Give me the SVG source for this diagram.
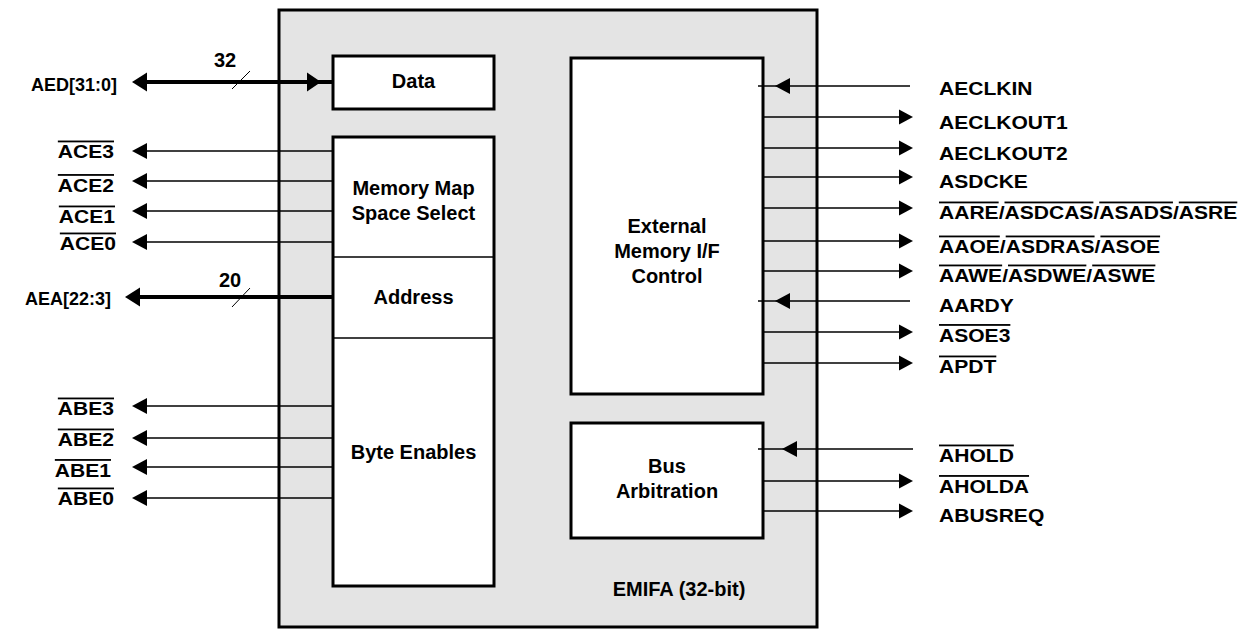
<svg xmlns="http://www.w3.org/2000/svg" xmlns:xlink="http://www.w3.org/1999/xlink" width="1252" height="631" viewBox="0 0 1252 631">
  <style>
    .frame { fill: #e4e4e4; stroke: #000; stroke-width: 3; }
    .blk { fill: #fff; stroke: #000; stroke-width: 3; }
    .div { stroke: #000; stroke-width: 1.3; fill: none; }
    .sig { stroke: #000; stroke-width: 1.3; fill: none; }
    .bus { stroke: #000; stroke-width: 4; fill: none; }
    .tick { stroke: #000; stroke-width: 1; fill: none; }
    .head { fill: #000; stroke: none; }
    .in { font-family: "Liberation Sans", Arial, sans-serif; font-weight: bold; font-size: 20px; fill: #000; text-anchor: middle; }
    .lbl { font-family: "Liberation Sans", Arial, sans-serif; font-weight: bold; font-size: 18px; fill: #000; }
    .lft { text-anchor: end; }
    .ov { text-decoration: overline; }
  </style>
  <defs>
    <path id="hl" class="head" d="M0,0 L15,-8 L15,8 Z"/>
    <path id="hr" class="head" d="M0,0 L-14,-7.5 L-14,7.5 Z"/>
    <path id="bl" class="head" d="M0,0 L15,-9.5 L15,9.5 Z"/>
    <path id="br" class="head" d="M0,0 L-14,-9.5 L-14,9.5 Z"/>
  </defs>

  <!-- EMIFA outline -->
  <g id="emifa">
    <rect class="frame" x="279" y="10" width="538" height="617"/>
    <text class="in" x="679" y="596">EMIFA (32-bit)</text>
  </g>

  <!-- data block -->
  <g id="data">
    <rect class="blk" x="333" y="56" width="161" height="53"/>
    <text class="in" x="413.5" y="88">Data</text>
  </g>

  <!-- address / chip select / byte enable block -->
  <g id="addr-block">
    <rect class="blk" x="333" y="137" width="161" height="449"/>
    <line class="div" x1="333" y1="257" x2="494" y2="257"/>
    <line class="div" x1="333" y1="338" x2="494" y2="338"/>
    <text class="in" x="413.5" y="195">Memory Map</text>
    <text class="in" x="413.5" y="220">Space Select</text>
    <text class="in" x="413.5" y="304">Address</text>
    <text class="in" x="413.5" y="459">Byte Enables</text>
  </g>

  <!-- external memory interface control -->
  <g id="ext-ctrl">
    <rect class="blk" x="571" y="58" width="192" height="336"/>
    <text class="in" x="667" y="233">External</text>
    <text class="in" x="667" y="258">Memory I/F</text>
    <text class="in" x="667" y="283">Control</text>
  </g>

  <!-- bus arbitration -->
  <g id="bus-arb">
    <rect class="blk" x="571" y="423" width="192" height="115"/>
    <text class="in" x="667" y="473">Bus</text>
    <text class="in" x="667" y="498">Arbitration</text>
  </g>

  <!-- signal lines -->
  <g id="connectors">
    <!-- data bus -->
    <line class="bus" x1="140" y1="82" x2="333" y2="82"/>
    <use href="#bl" x="132" y="82"/>
    <use href="#br" x="321" y="82"/>
    <line class="tick" x1="232" y1="89" x2="250" y2="71"/>
    <!-- address bus -->
    <line class="bus" x1="133" y1="297" x2="333" y2="297"/>
    <use href="#bl" x="125" y="297"/>
    <line class="tick" x1="232" y1="307" x2="250" y2="288"/>
    <!-- chip enables -->
    <line class="sig" x1="140" y1="151" x2="333" y2="151"/><use href="#hl" x="132" y="151"/>
    <line class="sig" x1="140" y1="181" x2="333" y2="181"/><use href="#hl" x="132" y="181"/>
    <line class="sig" x1="140" y1="211" x2="333" y2="211"/><use href="#hl" x="132" y="211"/>
    <line class="sig" x1="140" y1="242" x2="333" y2="242"/><use href="#hl" x="132" y="242"/>
    <!-- byte enables -->
    <line class="sig" x1="140" y1="406" x2="333" y2="406"/><use href="#hl" x="132" y="406"/>
    <line class="sig" x1="140" y1="438" x2="333" y2="438"/><use href="#hl" x="132" y="438"/>
    <line class="sig" x1="140" y1="467" x2="333" y2="467"/><use href="#hl" x="132" y="467"/>
    <line class="sig" x1="140" y1="498" x2="333" y2="498"/><use href="#hl" x="132" y="498"/>
    <!-- memory control, inputs -->
    <line class="sig" x1="758" y1="86" x2="910" y2="86"/><use href="#hl" x="775" y="86"/>
    <line class="sig" x1="758" y1="301" x2="910" y2="301"/><use href="#hl" x="775" y="301"/>
    <!-- memory control, outputs -->
    <line class="sig" x1="763" y1="117" x2="905" y2="117"/><use href="#hr" x="913" y="117"/>
    <line class="sig" x1="763" y1="148" x2="905" y2="148"/><use href="#hr" x="913" y="148"/>
    <line class="sig" x1="763" y1="177" x2="905" y2="177"/><use href="#hr" x="913" y="177"/>
    <line class="sig" x1="763" y1="208" x2="905" y2="208"/><use href="#hr" x="913" y="208"/>
    <line class="sig" x1="763" y1="241" x2="905" y2="241"/><use href="#hr" x="913" y="241"/>
    <line class="sig" x1="763" y1="271" x2="905" y2="271"/><use href="#hr" x="913" y="271"/>
    <line class="sig" x1="763" y1="332" x2="905" y2="332"/><use href="#hr" x="913" y="332"/>
    <line class="sig" x1="763" y1="363" x2="905" y2="363"/><use href="#hr" x="913" y="363"/>
    <!-- arbitration -->
    <line class="sig" x1="758" y1="449" x2="913" y2="449"/><use href="#hl" x="782" y="449"/>
    <line class="sig" x1="763" y1="481" x2="905" y2="481"/><use href="#hr" x="913" y="481"/>
    <line class="sig" x1="763" y1="511" x2="905" y2="511"/><use href="#hr" x="913" y="511"/>
  </g>

  <!-- pin labels, left (bus widths, buses, selects) -->
  <g id="pins-left">
    <text class="in" x="225" y="67">32</text>
    <text class="in" x="230" y="287">20</text>
    <text class="lbl lft" x="117" y="91">AED[31:0]</text>
    <text class="lbl lft" x="111" y="305">AEA[22:3]</text>
    <text class="lbl lft" transform="translate(114 158) scale(1.17 1)"><tspan class="ov">ACE3</tspan></text>
    <text class="lbl lft" transform="translate(114 191.5) scale(1.17 1)"><tspan class="ov">ACE2</tspan></text>
    <text class="lbl lft" transform="translate(115 223) scale(1.17 1)"><tspan class="ov">ACE1</tspan></text>
    <text class="lbl lft" transform="translate(116 250) scale(1.17 1)"><tspan class="ov">ACE0</tspan></text>
    <text class="lbl lft" transform="translate(114 415) scale(1.17 1)"><tspan class="ov">ABE3</tspan></text>
    <text class="lbl lft" transform="translate(114 446) scale(1.17 1)"><tspan class="ov">ABE2</tspan></text>
    <text class="lbl lft" transform="translate(111 476.5) scale(1.17 1)"><tspan class="ov">ABE1</tspan></text>
    <text class="lbl lft" transform="translate(114 505) scale(1.17 1)"><tspan class="ov">ABE0</tspan></text>
  </g>

  <!-- pin labels, right -->
  <g id="pins-right">
    <text class="lbl" transform="translate(939 95) scale(1.17 1)">AECLKIN</text>
    <text class="lbl" transform="translate(939 129) scale(1.17 1)">AECLKOUT1</text>
    <text class="lbl" transform="translate(939 160) scale(1.17 1)">AECLKOUT2</text>
    <text class="lbl" transform="translate(939 188) scale(1.17 1)">ASDCKE</text>
    <text class="lbl" transform="translate(939 219) scale(1.17 1)"><tspan class="ov">AARE</tspan>/<tspan class="ov">ASDCAS</tspan>/<tspan class="ov">ASADS</tspan>/<tspan class="ov">ASRE</tspan></text>
    <text class="lbl" transform="translate(939 253) scale(1.17 1)"><tspan class="ov">AAOE</tspan>/<tspan class="ov">ASDRAS</tspan>/<tspan class="ov">ASOE</tspan></text>
    <text class="lbl" transform="translate(939 282) scale(1.17 1)"><tspan class="ov">AAWE</tspan>/<tspan class="ov">ASDWE</tspan>/<tspan class="ov">ASWE</tspan></text>
    <text class="lbl" transform="translate(939 311.5) scale(1.17 1)">AARDY</text>
    <text class="lbl" transform="translate(939 341.5) scale(1.17 1)"><tspan class="ov">ASOE3</tspan></text>
    <text class="lbl" transform="translate(939 373) scale(1.17 1)"><tspan class="ov">APDT</tspan></text>
    <text class="lbl" transform="translate(939 462) scale(1.17 1)"><tspan class="ov">AHOLD</tspan></text>
    <text class="lbl" transform="translate(939 492.5) scale(1.17 1)"><tspan class="ov">AHOLDA</tspan></text>
    <text class="lbl" transform="translate(939 521.5) scale(1.17 1)">ABUSREQ</text>
  </g>
</svg>
